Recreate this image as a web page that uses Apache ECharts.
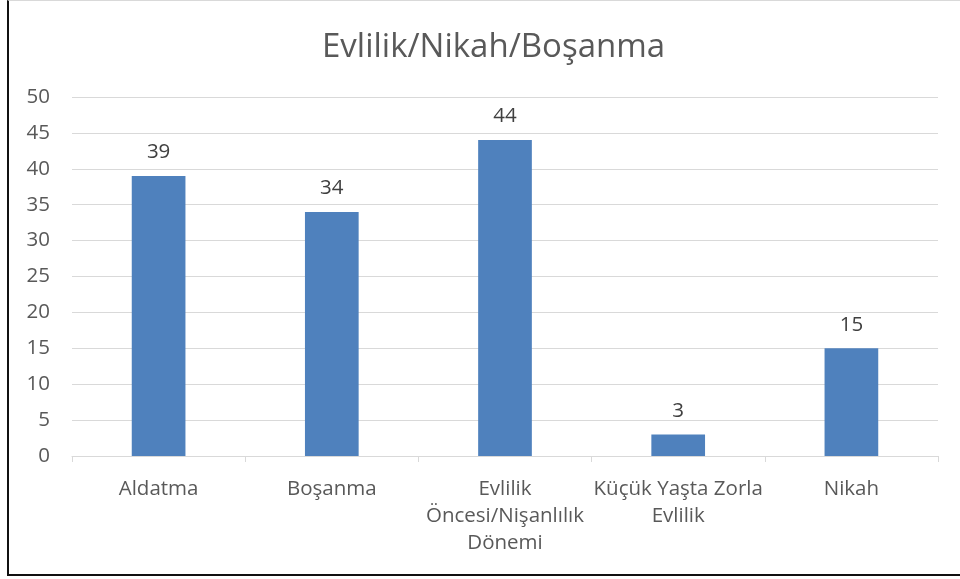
<!DOCTYPE html>
<html>
<head>
<meta charset="utf-8">
<script src="https://cdn.jsdelivr.net/npm/echarts@6/dist/echarts.min.js"></script>
<style>
html, body { margin: 0; padding: 0; background: #fff; }
#wrap { position: absolute; left: 0; top: 0; width: 960px; height: 579px; }
#frame { position: absolute; left: 7px; top: 0; width: 960px; height: 576px;
	border-left: 2px solid #111; border-bottom: 2px solid #111; border-top: 1px solid #d9d9d9; box-sizing: border-box; }
#chart { position: absolute; left: 0; top: 0; width: 960px; height: 579px; }
</style>
</head>
<body>
<div id="wrap">
	<div id="frame"></div>
	<div id="chart"></div>
</div>
<script>
// 数据
var categories = ['Aldatma', 'Boşanma', 'Evlilik\nÖncesi/Nişanlılık\nDönemi', 'Küçük Yaşta Zorla\nEvlilik', 'Nikah'];
var values = [39, 34, 44, 3, 15];
var yTicks = [0, 5, 10, 15, 20, 25, 30, 35, 40, 45, 50];

var font = '"Open Sans", "Noto Sans", sans-serif';
var chart = echarts.init(document.getElementById('chart'));
var option = {
	animation: false,
	title: {
		text: 'Evlilik/Nikah/Boşanma',
		left: 317,
		top: 26,
		textStyle: { fontFamily: font, fontSize: 33, fontWeight: 'normal', color: '#595959' }
	},
	grid: { left: 72, right: 22, top: 97, bottom: 123 },
	xAxis: {
		type: 'category',
		data: categories,
		axisLine: { lineStyle: { color: '#d9d9d9', width: 1 } },
		axisTick: { show: true, alignWithLabel: false, length: 6, lineStyle: { color: '#d9d9d9' } },
		axisLabel: { fontFamily: font, fontSize: 20.5, color: '#595959', margin: 20, lineHeight: 27, interval: 0 }
	},
	yAxis: {
		type: 'value',
		min: yTicks[0],
		max: yTicks[yTicks.length - 1],
		interval: 5,
		axisLine: { show: false },
		axisTick: { show: false },
		splitLine: { lineStyle: { color: '#d9d9d9', width: 1 } },
		axisLabel: { fontFamily: font, fontSize: 20.5, color: '#595959', margin: 22 }
	},
	series: [{
		type: 'bar',
		data: values,
		barWidth: '31%',
		itemStyle: { color: '#4f81bd' },
		label: {
			show: true,
			position: 'top',
			distance: 13,
			fontFamily: font,
			fontSize: 20.5,
			color: '#404040'
		}
	}]
};
chart.setOption(option);
</script>
</body>
</html>
